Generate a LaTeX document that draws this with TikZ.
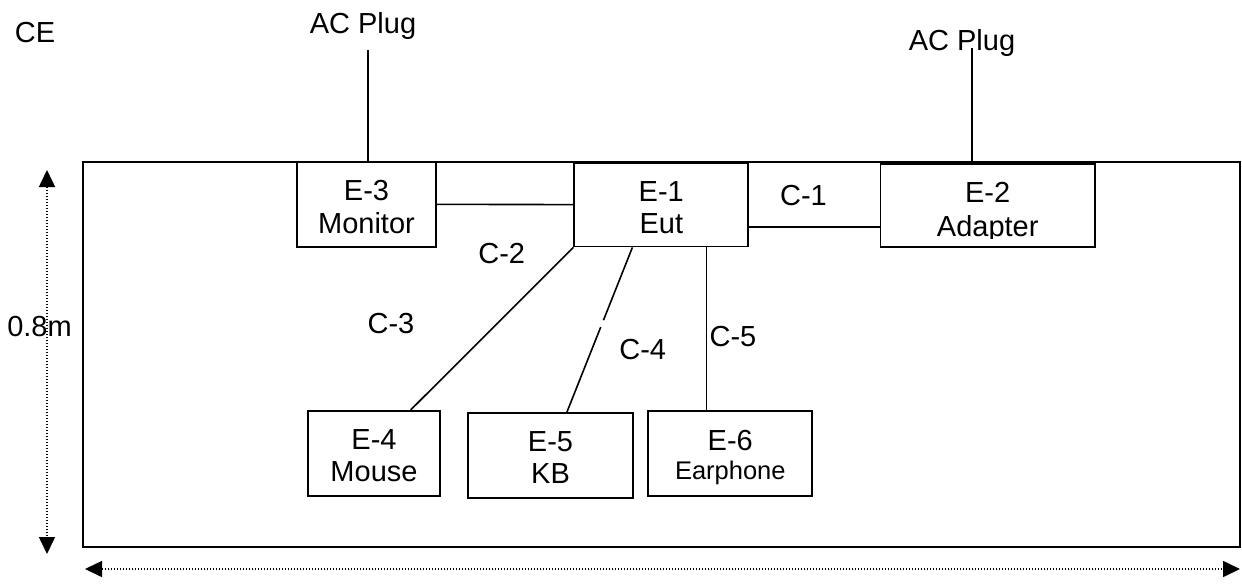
\documentclass[tikz,border=0pt]{standalone}
\usepackage{fontspec}
\setmainfont{Liberation Sans}
\usetikzlibrary{arrows.meta,calc}
\begin{document}
\begin{tikzpicture}[x=1pt,y=-1pt,
  box/.style={draw,line width=1.8pt,inner sep=0pt},
  lbl/.style={font=\fontsize{29}{33}\selectfont,inner sep=0pt,anchor=base},
  small/.style={font=\fontsize{25.5}{33}\selectfont,inner sep=0pt,anchor=base},
  wire/.style={line width=1.6pt},
  dimline/.style={line width=1.6pt,dash pattern=on 1.4pt off 1.6pt,
    {Triangle[width=16pt,length=17pt]}-{Triangle[width=16pt,length=17pt]}}]
\useasboundingbox (0,0) rectangle (1242,584);
% table
\node[box,minimum width=1157pt,minimum height=385pt,line width=2pt] (table) at (661.5,354.5) {};
% boxes
\node[box,fill=white,minimum width=139pt,minimum height=84.7pt] (E3) at (366.5,204.35) {};
\node[box,fill=white,minimum width=174pt,minimum height=83.8pt] (E1) at (661.3,204.6) {};
\node[box,fill=white,minimum width=214.6pt,minimum height=83.3pt] (E2) at (987.7,205.65) {};
\node[box,minimum width=131.7pt,minimum height=85pt] (E4) at (374.15,453.2) {};
\node[box,minimum width=164.4pt,minimum height=84.7pt] (E5) at (550.5,455.65) {};
\node[box,minimum width=164pt,minimum height=85pt] (E6) at (730.3,453.8) {};
% box texts
\node[lbl] (E3a) at (366.5,200) {E-3};
\node[lbl] (E3b) at (366.5,233) {Monitor};
\node[lbl] (E1a) at (661.3,201.7) {E-1};
\node[lbl] (E1b) at (661.3,233) {Eut};
\node[lbl] (E2a) at (987.7,202.7) {E-2};
\begin{scope}
\clip (880,150) rectangle (1095,238);
\node[lbl] (E2b) at (987.7,236) {Adapter};
\end{scope}
\node[lbl] (E4a) at (374,449.7) {E-4};
\node[lbl] (E4b) at (374,481.3) {Mouse};
\node[lbl] (E5a) at (550.5,451.3) {E-5};
\node[lbl] (E5b) at (550.5,483) {KB};
\node[lbl] (E6a) at (730.3,450.7) {E-6};
\node[small] (E6b) at (730.3,479.7) {Earphone};
% labels
\node[lbl] (CE) at (35,42) {CE};
\node[lbl] (plugL) at (363,33) {AC Plug};
\node[lbl] (plugR) at (962,50) {AC Plug};
\node[lbl] (C1) at (803.5,205) {C-1};
\node[lbl] (C2) at (501.7,263) {C-2};
\node[lbl] (C3) at (391,333) {C-3};
\node[lbl] (C4) at (642.7,359) {C-4};
\node[lbl] (C5) at (733,346) {C-5};
\node[lbl] (h) at (39.5,336) {0.8m};
% plugs
\coordinate (pl) at (368,50);
\coordinate (pr) at (972,48);
\draw[wire] (pl) -- (pl |- E3.north);
\draw[wire] (pr) -- (pr |- E2.north);
% cables
\draw[wire] (E3.east) -- (E1.west);
\coordinate (c1) at (0,226.7);
\draw[wire] (E1.east |- c1) -- (E2.west |- c1);
\draw[wire] (E1.south west) -- ([xshift=103.4pt]E4.north west);
\coordinate (k1) at ([xshift=59pt]E1.south west);
\coordinate (k2) at ([xshift=99.4pt]E5.north west);
\draw[wire] (k1) -- ($(k1)!0.441!(k2)$);
\draw[wire] ($(k1)!0.483!(k2)$) -- (k2);
\coordinate (e6) at ([xshift=59pt]E6.north west);
\draw[wire] (e6) -- (e6 |- E1.south);
% dimensions
\coordinate (vt) at (47,170);
\coordinate (vb) at (47,554);
\coordinate (hl) at (85,569);
\coordinate (hr) at (1240,569);
\draw[dimline] (vt) -- (vb);
\draw[dimline] (hl) -- (hr);
\end{tikzpicture}
\end{document}
